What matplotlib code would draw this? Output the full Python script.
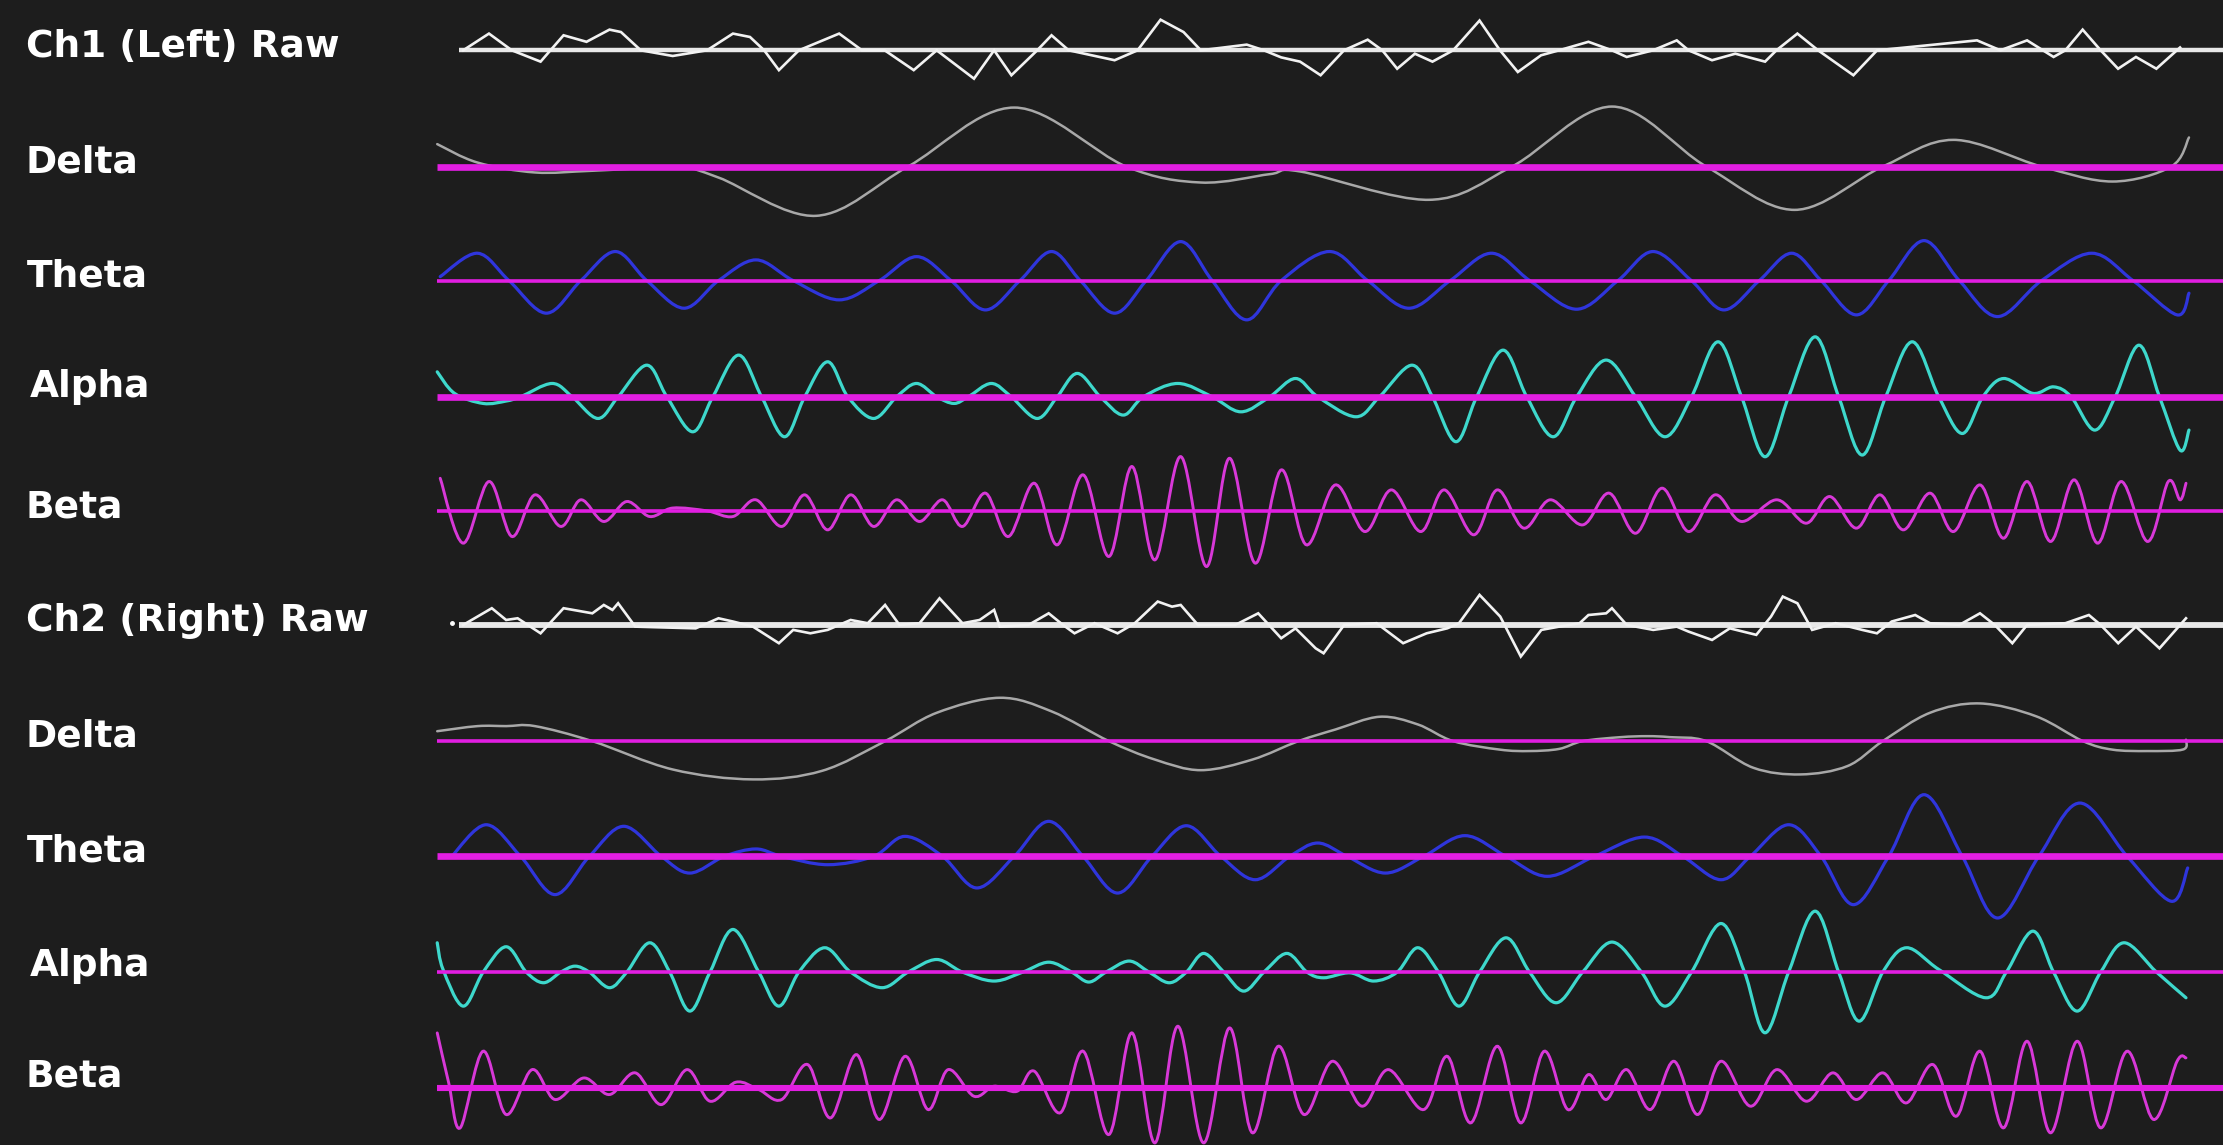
import numpy as np
import matplotlib.pyplot as plt
from matplotlib.path import Path
from matplotlib.patches import PathPatch

ch1_raw = [(326.7, 0), (344.9, 11.8), (361, 0), (381.3, -8), (397.5, 10.6), (413.7, 6), (429.9, 14.6),
           (438, 12.9), (452, 0), (474.5, -4), (498.7, 0), (517, 11.8), (529, 9.4), (539, 0), (549.4, -14),
           (563.5, 0), (591.9, 11.8), (608, 0), (624, 0), (644.5, -14), (660.7, 0), (687, -20), (701.2, 0),
           (713.4, -17.6), (731.6, 0), (741.7, 10.6), (753.8, 0), (786.2, -7), (802.4, 0), (818.6, 21.6),
           (834.8, 12.9), (847, 0), (879.4, 4), (891.5, 0), (903.7, -5), (917, -8), (931.5, -17.6), (948, 0),
           (964.7, 7.5), (975, 0), (985.5, -13), (998, -2.4), (1010.4, -8), (1025, 0), (1043.6, 21),
           (1058, 0), (1070.6, -15.3), (1087, -3.5), (1099.7, 0), (1120.4, 6), (1137, 0), (1147.4, -4.7),
           (1166, 0), (1182.7, 7), (1191, 0), (1207.6, -7), (1224, -2.4), (1245, -8), (1253, 0),
           (1267.8, 11.8), (1282.4, 0), (1307.3, -17.6), (1324, 0), (1394.5, 7), (1411, 0), (1429.8, 7),
           (1448.5, -4.7), (1456.8, 0), (1469, 14.6), (1481.7, 0), (1494, -13), (1506.6, -4.7), (1521, -13),
           (1537.7, 2)]

ch1_delta = [(308.4, 15.8), (336.8, 2.8), (377.3, -4.2), (417.8, -3), (478.5, -0.7), (506.8, -7.8),
             (575.7, -34.8), (640.5, 0), (715.4, 41.6), (794.3, 0), (847, -11.3), (895.6, -5.4),
             (917, -3.5), (1008, -23.5), (1066.5, 0), (1137, 42.3), (1203.5, 0), (1265.8, -30.6),
             (1328, 0), (1377.9, 18.8), (1440, 0), (1490, -10.6), (1531.5, 0), (1544, 20.5)]

ch1_theta = [(310.5, 2.8), (336.8, 19.3), (359, 0), (385.4, -23), (409.7, 0), (434, 20.5), (456.2, 0),
             (482.5, -19.5), (506.8, 0), (533.2, 14.6), (559.5, 0), (591.9, -13.6), (620.2, 0),
             (646.5, 16.9), (670.8, 0), (695.1, -20.7), (719.4, 0), (741.7, 20.5), (762, 0), (786.2, -23),
             (808.5, 0), (832.8, 27.5), (855, 0), (879.4, -27.7), (903.7, 0), (937.8, 20.5), (964.7, 0),
             (993.8, -19.5), (1022.9, 0), (1052, 19.3), (1079, 0), (1112, -20.2), (1141.2, 0), (1166, 20.5),
             (1193, 0), (1216, -20.7), (1240.9, 0), (1263.7, 19.3), (1284.5, 0), (1309.4, -24.2),
             (1332.2, 0), (1357.1, 28.2), (1382, 0), (1409, -25.4), (1440, 0), (1475.4, 19.3), (1504.5, 0),
             (1535.6, -24.2), (1544, -8.9)]

ch1_alpha = [(308.4, 17.6), (320.6, 2.4), (340.8, -4.7), (357, -3), (367.2, 0), (389.4, 9.4), (403.6, 0),
             (421.8, -15.3), (436, 0), (456.2, 22.3), (470.4, 0), (488.6, -24.7), (502.8, 0), (521, 29.4),
             (537.2, 0), (553.4, -28.2), (567.6, 0), (583.8, 24.7), (598, 0), (616.2, -15.3), (632.4, 0),
             (646.5, 9.4), (660.7, 0), (672.9, -4.7), (683, 0), (699.2, 9.4), (713.3, 0), (731.6, -15.3),
             (745.7, 0), (759.9, 16.5), (776.1, 0), (792.3, -12.9), (806.5, 0), (830.8, 9.4), (855, 0),
             (875.3, -10.6), (895.6, 0), (913.8, 12.9), (929.5, 0), (956.4, -14.1), (973, 0), (995.9, 22.3),
             (1010.4, 0), (1027, -31.7), (1041.6, 0), (1060.2, 32.9), (1076.9, 0), (1095.5, -28.2),
             (1112.1, 0), (1132.9, 25.9), (1153.7, 0), (1174.4, -28.2), (1193.1, 0), (1211.8, 38.8),
             (1228.4, 0), (1245, -42.3), (1261.6, 0), (1280.3, 42.3), (1296.9, 0), (1313.5, -41.1),
             (1330.1, 0), (1348.8, 38.8), (1367.5, 0), (1384.1, -25.9), (1398.6, 0), (1413.2, 12.9),
             (1433.9, 2.4), (1448.5, 7), (1460.9, 0), (1477.5, -23.5), (1492, 0), (1508.7, 36.4),
             (1523.2, 0), (1537.7, -37.6), (1544, -23.5)]

ch1_beta = [(310.5, 23), (326.7, -22.8), (344.9, 20.7), (361.1, -18.1), (377.3, 11.3), (395.5, -11),
            (409.7, 7.8), (425.9, -7.5), (442.1, 6.6), (458.3, -4), (474.5, 2), (498.7, 0), (517, -4),
            (533.2, 7.8), (551.4, -11), (567.6, 11.3), (583.8, -13.4), (600, 11.3), (616.2, -11),
            (632.4, 7.8), (648.6, -7.5), (664.8, 7.8), (678.9, -11), (695.1, 12.5), (711.3, -18.1),
            (729.5, 19.5), (745.7, -24), (764, 25.4), (782.2, -32.2), (798.4, 31.3), (814.6, -34.6),
            (832.8, 38.3), (851, -39.3), (867.2, 37.1), (885.4, -36.9), (903.7, 28.9), (921.5, -24),
            (941.9, 18.3), (962.7, -14.6), (981.4, 14.8), (1002.1, -14.6), (1018.7, 14.8), (1039.5, -16.9),
            (1056.1, 14.8), (1074.8, -12.2), (1093.5, 7.8), (1116.3, -9.9), (1135, 12.5), (1153.7, -15.8),
            (1172.3, 16), (1191, -14.6), (1209.7, 11.3), (1228.4, -7.5), (1253.3, 7.8), (1274.1, -8.7),
            (1290.7, 10.1), (1309.4, -12.2), (1326, 11.3), (1342.6, -13.4), (1361.3, 12.5), (1377.9, -14.6),
            (1396.6, 18.3), (1413.2, -19.3), (1429.8, 20.7), (1446.4, -21.6), (1463, 21.9), (1479.6, -22.8),
            (1496.2, 20.7), (1514.9, -21.6), (1529.4, 20.7), (1537.7, 7.8), (1541.9, 19.5)]

ch2_raw = [(326.7, 0), (346.9, 11.8), (357, 3.5), (365.1, 4.7), (381.3, -5.9), (397.5, 11.8), (417.8, 8.2),
           (425.9, 14.1), (432, 10.6), (436, 15.3), (448.1, -1.2), (490.7, -2.4), (506.8, 4.7), (517, 2.4),
           (531.1, -1.2), (549.4, -12.9), (559.5, -3.5), (571.6, -5.9), (583.8, -3.5), (600, 3.5),
           (612.1, 1.2), (624.3, 14.1), (634.4, 0), (648.6, 1.2), (662.7, 18.8), (678.9, 1.2), (691, 3.5),
           (701.2, 10.6), (705.2, -1.2), (725.5, 0), (739.7, 8.2), (749.8, 0), (757.9, -5.9), (772, 1.2),
           (788.3, -5.9), (800.4, 1.2), (816.6, 16.5), (826.7, 12.9), (832.8, 14.1), (845, 0), (871.3, 0),
           (887.5, 8.2), (903.7, -9.4), (913.8, -2.4), (928, -16.5), (933.6, -20), (948.1, 0), (971, 1.2),
           (989.7, -12.9), (1006.3, -5.9), (1020.8, -2.4), (1029.1, 1.2), (1043.6, 21.2), (1058.2, 5.9),
           (1072.7, -22.3), (1087.2, -3.5), (1099.7, -1.2), (1114.2, 1.2), (1120.4, 7), (1132.9, 8.2),
           (1137, 11.8), (1147.4, 0), (1166.1, -3.5), (1182.7, -1.2), (1191, -4.7), (1207.6, -10.6),
           (1220.1, -2.4), (1238.8, -7), (1249.2, 5.9), (1257.5, 20), (1267.8, 15.3), (1278.2, -3.5),
           (1294.8, 1.2), (1313.5, -3.5), (1323.9, -5.9), (1334.3, 2.4), (1350.9, 7), (1361.3, 1.2),
           (1382, 0), (1396.6, 8.2), (1407, 0), (1419.4, -12.9), (1429.8, 0), (1456.8, 1.2), (1473.4, 7),
           (1481.7, 0), (1494.1, -12.9), (1506.6, -1.2), (1523.2, -16.5), (1541.9, 4.7)]
ch2_raw_dot = (318.6, 1.2)

ch2_delta = [(308.4, 7), (336.8, 10.6), (357, 10.6), (377.3, 10.6), (417.8, 0), (474.5, -20), (531.1, -27),
             (579.7, -21), (624.3, 0), (660.7, 20), (705.2, 30.6), (741.7, 21), (782.2, 0), (814.6, -13),
             (847, -20.5), (883.4, -13), (915.8, 0), (941.9, 8.2), (973.1, 17.2), (1000, 11.8), (1025, 0),
             (1058, -6), (1078.9, -7), (1099.7, -5.5), (1116.3, 0), (1143, 2.8), (1162, 3.5), (1178, 2.8),
             (1203.5, 0), (1236.7, -18.8), (1269.9, -23.5), (1303.1, -17.6), (1328, 0), (1361.3, 20),
             (1396.6, 26.6), (1436, 17.6), (1469.2, 0), (1490, -6), (1514.9, -7), (1539.8, -5.9),
             (1541.9, 1)]

ch2_theta = [(318.6, 0), (342.9, 22.3), (367.2, 0), (391.5, -27), (415.7, 0), (440, 21.2), (466.4, 0),
             (486.6, -11.8), (510.9, 0), (533.2, 5.2), (551.4, 0), (583.8, -5.9), (616.2, 0), (638.4, 14.1),
             (664.8, 0), (689.1, -22.3), (715.4, 0), (739.7, 24.7), (763.9, 0), (788.3, -25.9), (812.5, 0),
             (836.8, 21.6), (861.1, 0), (885.4, -16.5), (909.7, 0), (929.5, 9.4), (950.2, 0), (977.2, -11.8),
             (1004.2, 0), (1033.3, 14.6), (1062.3, 0), (1091.4, -14.1), (1124.6, 0), (1159.9, 13.6),
             (1186.9, 0), (1213.9, -16.5), (1234.6, 0), (1261.6, 22.3), (1284.5, 0), (1307.3, -34.1),
             (1332.2, 0), (1357.1, 43.5), (1384.1, 0), (1409, -43.5), (1438.1, 0), (1467.1, 37.6),
             (1500.4, 0), (1531.5, -31.7), (1543.1, -8.2)]

ch2_alpha = [(308.4, 20.7), (312.5, 1.9), (326.7, -24), (340.8, 0), (357, 17.9), (371.2, 0), (383.4, -7.5),
             (395.5, 0), (405.6, 4.2), (415.7, 0), (429.9, -11), (442.1, 0), (458.3, 20.7), (472.4, 0),
             (486.6, -27.5), (500.8, 0), (517, 30.1), (535.2, 0), (549.4, -24), (563.5, 0), (581.8, 17.2),
             (600, 0), (622.2, -11), (640.5, 0), (660.7, 8.9), (678.9, 0), (701.2, -6.3), (721.4, 0),
             (739.7, 7), (755.9, 0), (768, -7), (780.1, 0), (796.4, 7.8), (810.5, 0), (824.7, -7.5),
             (836.8, 0), (849, 13.2), (863.2, 0), (877.3, -13.4), (891.5, 0), (907.7, 13.2), (921.9, 0),
             (933.6, -4), (952.3, -0.5), (968.9, -6.3), (985.5, 0), (1000, 17.2), (1014.6, 0),
             (1029.1, -24), (1043.6, 0), (1062.3, 24.2), (1078.9, 0), (1097.6, -21.6), (1116.3, 0),
             (1137, 21.2), (1157.8, 0), (1174.4, -24), (1193.1, 0), (1213.9, 34.3), (1230.5, 0),
             (1245, -42.8), (1261.6, 0), (1280.3, 43), (1296.9, 0), (1311.4, -34.6), (1328, 0),
             (1344.7, 17.2), (1367.5, 1.9), (1400.7, -18.1), (1415.2, 0), (1433.9, 28.9), (1448.5, 0),
             (1465.1, -27.5), (1481.7, 0), (1498.3, 20.7), (1521.1, 0), (1541.9, -18.1)]

ch2_beta = [(308.4, 38.8), (316.5, 3.5), (324.6, -28.2), (340.8, 25.9), (357, -18.8), (375.3, 12.9),
            (391.5, -8.2), (411.7, 7), (429.9, -4.7), (448.1, 10.6), (466.4, -11.8), (484.6, 12.9),
            (500.8, -9.4), (519, 4), (535.2, -1.2), (551.4, -8.2), (569.6, 16.5), (585.8, -21.2), (604, 23.5),
            (620.2, -22.3), (638.4, 22.3), (654.6, -15.3), (668.8, 12.9), (687, -5.9), (701.2, 1.2),
            (717.4, -2.4), (729.5, 11.8), (747.8, -17.6), (764, 25.9), (782.2, -32.9), (798.4, 38.8),
            (814.6, -38.8), (830.8, 43.5), (849, -38.8), (867.2, 42.3), (883.4, -31.7), (901.6, 29.4),
            (919.8, -18.8), (939.8, 18.8), (960.6, -12.9), (979.3, 12.9), (1004.2, -15.3), (1020.8, 22.3),
            (1037.4, -24.7), (1056.1, 29.4), (1072.7, -24.7), (1089.3, 25.9), (1105.9, -15.3), (1120.4, 9.4),
            (1132.9, -8.2), (1147.4, 12.9), (1164, -15.3), (1180.7, 18.8), (1197.3, -18.8), (1213.9, 18.8),
            (1234.6, -12.9), (1253.3, 12.9), (1274.1, -9.4), (1292.8, 10.6), (1309.4, -8.2), (1328, 10.6),
            (1344.7, -10.6), (1363.3, 16.5), (1379.9, -20), (1396.6, 25.9), (1413.2, -28.2), (1429.8, 32.9),
            (1446.4, -31.7), (1465.1, 32.9), (1481.7, -28.2), (1500.4, 25.9), (1519.1, -22.3),
            (1535.6, 18.8), (1541.9, 21.2)]

labels = ["Ch1 (Left) Raw", "Delta", "Theta", "Alpha", "Beta",
          "Ch2 (Right) Raw", "Delta", "Theta", "Alpha", "Beta"]
traces = [ch1_raw, ch1_delta, ch1_theta, ch1_alpha, ch1_beta,
          ch2_raw, ch2_delta, ch2_theta, ch2_alpha, ch2_beta]

# layout / style (screen units of the original capture)
row_y = [35.5, 117.5, 198, 280, 360.5, 441, 523, 604.3, 686, 767.7]
label_y = [33, 115, 195, 273, 358, 438, 520, 601, 682, 760]
label_x = [18, 18, 19, 21, 18, 18, 18, 19, 21, 18]
colors = ["#f2f2f2", "#a8a8a8", "#2f35dc", "#3ed8cc", "#d838d8"] * 2
widths = [1.9, 1.8, 2.3, 2.3, 2.1] * 2
base_w = [3.2, 4.8, 2.6, 4.8, 2.6, 4.2, 2.6, 4.8, 2.6, 4.4]
BG = "#1d1d1d"
MAG = "#e21ee2"


def smooth_path(pts, base):
    # Catmull-Rom through the read points, drawn as cubic bezier pieces
    p = np.array(pts, dtype=float)
    P = np.column_stack([p[:, 0], base - p[:, 1]])
    Q = np.vstack([P[0], P, P[-1]])
    verts = [P[0]]
    codes = [Path.MOVETO]
    for i in range(len(P) - 1):
        p0, p1, p2, p3 = Q[i], Q[i + 1], Q[i + 2], Q[i + 3]
        verts += [p1 + (p2 - p0) / 6.0, p2 - (p3 - p1) / 6.0, p2]
        codes += [Path.CURVE4] * 3
    return Path(verts, codes)


fig = plt.figure(figsize=(22.23, 11.45), dpi=100, facecolor=BG)
ax = fig.add_axes([0, 0, 1, 1])
ax.set_facecolor(BG)
ax.set_xlim(0, 1568)
ax.set_ylim(808, 0)
ax.axis("off")

for i, pts in enumerate(traces):
    base = row_y[i]
    raw = i in (0, 5)
    if raw:
        ax.plot([324, 1568], [base, base], color="#e8e8e8", lw=base_w[i], zorder=2,
                solid_capstyle="butt")
        xs = [q[0] for q in pts]
        ys = [base - q[1] for q in pts]
        ax.plot(xs, ys, color=colors[i], lw=widths[i], zorder=3, solid_joinstyle="miter")
    else:
        ax.add_patch(PathPatch(smooth_path(pts, base), fill=False, edgecolor=colors[i],
                               lw=widths[i], zorder=2, capstyle="round"))
        ax.plot([308, 1568], [base, base], color=MAG, lw=base_w[i], zorder=3,
                solid_capstyle="butt")
    ax.text(label_x[i], label_y[i], labels[i], color="white", fontsize=27,
            fontfamily="DejaVu Sans", fontweight="bold", ha="left", va="center")

ax.plot([ch2_raw_dot[0]], [row_y[5] - ch2_raw_dot[1]], "o", color="white", ms=2.5, zorder=3)

fig.savefig("out.png", dpi=100, facecolor=BG)
